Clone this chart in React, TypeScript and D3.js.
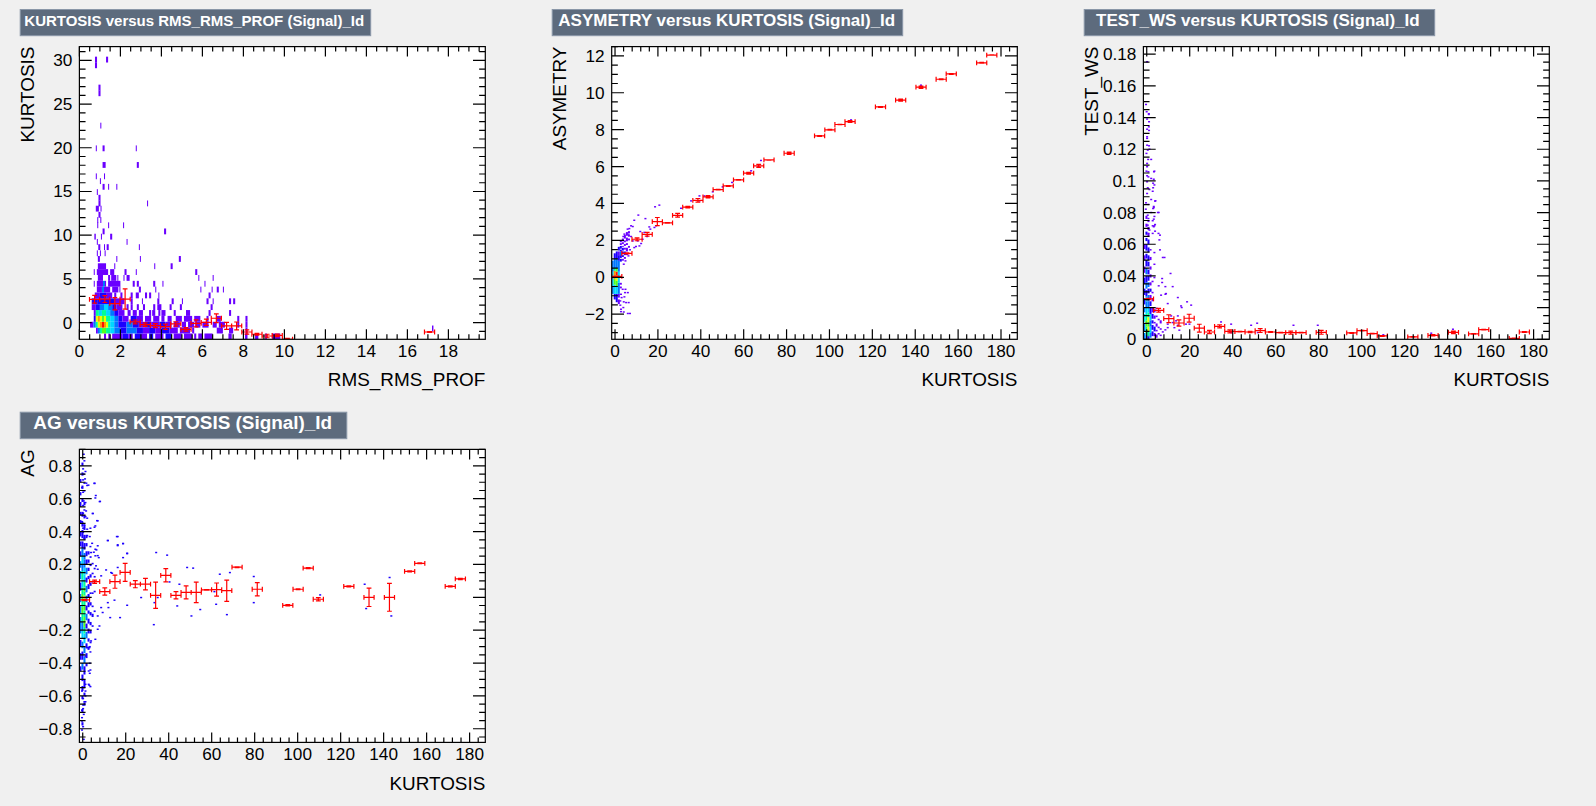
import React from "react";
import * as d3 from "d3";

type Seg = [number, number, number]; // from, to, entries
type Line = [number, Seg[]]; // lower edge of the row or column, then its runs
type Dot = [number, number];

// ---- KURTOSIS vs RMS_RMS_PROF
// rows: y lower edge, runs along x
const rmsRows: Line[] = [
  [-1.91, [[1.2,1.3,1],[1.41,1.5,1],[1.6,2.1,1],[2.1,2.4,2],[2.4,2.6,1],[2.7,3.0,2],[3.0,3.3,1],[3.4,3.6,2],[3.7,4.1,1],[4.2,4.5,2],[4.6,5.0,1],[5.1,5.5,1],[5.6,5.7,1],[5.8,6.0,1],[6.1,6.5,1],[7.27,7.43,1],[8.08,8.2,1],[8.57,8.73,1],[9.06,9.15,1],[9.4,9.8,1]]],
  [-1.24, [[0.81,0.9,1],[0.9,1.0,3],[1.0,1.1,5],[1.1,1.3,6],[1.3,1.5,5],[1.5,1.7,4],[1.7,2.0,3],[2.0,2.3,2],[2.3,2.8,3],[2.8,3.1,2],[3.1,3.4,1],[3.4,3.7,2],[3.7,4.0,1],[4.0,4.4,2],[4.4,4.8,1],[4.9,5.4,1],[5.5,5.6,1],[6.7,7.0,1],[7.3,7.5,1],[8.1,8.2,1]]],
  [-0.57, [[0.52,0.68,1],[0.68,0.8,3],[0.8,0.9,5],[0.9,1.0,7],[1.0,1.1,8],[1.1,1.2,9],[1.2,1.3,8],[1.3,1.4,7],[1.4,1.5,5],[1.5,1.7,4],[1.7,1.9,3],[1.9,2.3,2],[2.3,2.6,3],[2.6,2.9,2],[2.9,3.2,1],[3.2,3.5,2],[3.5,3.9,1],[3.9,4.2,2],[4.2,4.5,1],[4.6,4.9,1],[5.0,5.2,1],[5.3,5.6,1],[5.65,5.9,1],[6.0,6.3,1],[6.5,6.7,1],[6.8,7.1,1],[7.7,7.8,1],[8.1,8.2,1]]],
  [0.1, [[0.7,0.8,2],[0.8,0.9,7],[0.9,1.0,8],[1.0,1.1,7],[1.1,1.2,6],[1.2,1.3,7],[1.3,1.5,5],[1.5,1.7,4],[1.7,1.9,3],[1.9,2.1,2],[2.1,2.4,1],[2.5,2.8,2],[2.8,3.1,1],[3.2,3.5,1],[3.6,3.9,1],[4.0,4.15,1],[4.3,4.5,1],[4.7,5.0,1],[5.1,5.5,1],[5.6,5.9,1],[6.2,6.3,1],[6.7,6.9,1],[7.7,7.8,1],[8.1,8.2,1]]],
  [0.77, [[0.7,0.8,1],[0.8,0.95,5],[0.95,1.1,4],[1.1,1.3,5],[1.3,1.5,4],[1.5,1.7,3],[1.7,1.9,2],[1.9,2.2,1],[2.35,2.5,1],[2.6,2.8,1],[2.9,3.1,1],[3.4,3.5,1],[3.55,3.7,1],[3.85,3.95,1],[4.0,4.2,1],[4.6,4.7,1],[5.2,5.4,1],[6.3,6.4,1],[7.3,7.4,1]]],
  [1.44, [[0.6,0.8,1],[0.8,1.0,2],[1.0,1.2,3],[1.2,1.4,4],[1.4,1.6,3],[1.6,1.8,2],[1.8,2.1,1],[2.3,2.4,1],[2.5,2.6,1],[2.8,2.9,1],[3.1,3.2,1],[3.6,3.7,1],[3.8,4.0,1],[4.4,4.5,1],[4.9,5.0,1],[6.4,6.5,1]]],
  [2.11, [[0.6,0.9,2],[0.9,1.7,2],[1.7,2.2,1],[2.5,2.6,1],[3.05,3.1,1],[3.8,3.9,1],[4.5,4.6,1],[5.0,5.05,1],[6.2,6.3,1],[6.5,6.55,1],[7.3,7.4,1],[7.5,7.6,1]]],
  [2.78, [[0.75,1.0,1],[1.0,1.3,2],[1.3,1.6,1],[1.7,1.8,1],[2.0,2.1,1],[2.5,2.6,1],[2.75,2.9,1],[3.2,3.3,1],[3.4,3.5,1],[3.85,3.9,1],[6.3,6.4,1]]],
  [3.45, [[0.85,1.1,1],[1.1,1.2,3],[1.2,1.5,1],[1.6,1.9,1],[1.95,2.0,1],[2.9,3.0,1],[3.7,3.75,1],[5.9,5.95,1],[6.45,6.5,1],[6.7,6.8,1],[7.0,7.05,1]]],
  [4.11, [[0.7,0.75,1],[0.85,1.15,1],[1.15,1.25,3],[1.25,1.3,1],[1.4,2.0,1],[2.6,2.7,1],[2.8,2.9,1],[3.6,3.7,1],[4.05,4.1,1],[6.1,6.15,1]]],
  [4.78, [[0.9,1.15,1],[1.4,1.5,1],[1.55,1.8,1],[1.85,1.9,1],[2.15,2.2,1],[2.3,2.45,1],[5.8,5.85,1],[6.5,6.55,1]]],
  [5.45, [[0.7,0.75,1],[0.85,1.4,1],[1.5,1.7,1],[2.2,2.3,1],[2.75,2.8,1],[5.65,5.75,1]]],
  [6.12, [[0.9,1.3,1],[1.7,1.75,1],[3.65,3.7,1],[4.45,4.55,1]]],
  [6.95, [[0.9,1.0,1],[1.8,1.85,1],[2.95,3.0,1],[4.85,4.95,1]]],
  [7.6, [[0.85,0.9,1],[1.0,1.05,1],[1.23,1.28,1]]],
  [8.3, [[0.92,1.02,1],[1.2,1.25,1],[1.33,1.43,1],[2.9,2.95,1]]],
  [8.9, [[0.85,0.9,1],[2.3,2.35,1]]],
  [9.5, [[0.73,0.8,1],[1.05,1.1,1],[1.5,1.6,1]]],
  [10.1, [[1.13,1.23,1],[4.13,4.23,1]]],
  [10.8, [[0.87,0.92,1],[1.4,1.45,1],[2.13,2.18,1]]],
  [11.4, [[0.87,0.92,1],[1.02,1.07,1]]],
  [12.0, [[0.93,1.03,1]]],
  [12.7, [[0.8,0.95,1],[1.03,1.08,1]]],
  [13.3, [[0.93,1.03,1],[3.3,3.35,1]]],
  [13.95, [[0.93,1.03,1]]],
  [14.6, [[0.85,0.9,1]]],
  [15.2, [[1.13,1.23,1],[1.4,1.45,1],[1.8,1.85,1]]],
  [15.85, [[1.0,1.05,1]]],
  [16.4, [[0.8,0.85,1],[1.2,1.25,1]]],
  [17.7, [[1.13,1.28,1],[2.8,2.9,1]]],
  [19.6, [[0.8,0.85,1],[1.13,1.23,1],[2.75,2.8,1]]],
  [22.2, [[1.02,1.07,1]]],
  [25.9, [[0.93,1.03,1]]],
  [26.55, [[0.93,1.03,1]]],
  [29.1, [[0.76,0.86,1]]],
  [29.75, [[0.76,0.86,1],[1.3,1.4,1]]],
  [-1.0, [[17.2,17.27,1]]],
];

// columns below: x lower edge, runs along y
const asymColumns: Line[] = [
  [-1.55, [[-0.9,-0.5,3],[-0.5,0.3,4],[0.3,0.9,3]]],
  [-0.6, [[-1.2,-0.9,2],[-0.9,-0.4,4],[-0.4,-0.1,6],[-0.1,0.35,8],[0.35,0.5,5],[0.5,1.0,3],[1.0,1.3,2]]],
  [0.34, [[-1.35,-0.9,2],[-0.9,-0.5,4],[-0.5,-0.2,6],[-0.2,0.1,7],[0.1,0.3,9],[0.3,0.5,6],[0.5,1.0,3],[1.0,1.4,2]]],
  [1.29, [[-1.45,-1.2,1],[-1.1,-0.9,1],[-0.9,-0.3,3],[-0.3,0.3,4],[0.3,0.9,3],[0.9,1.2,2],[1.2,1.4,1],[1.45,1.65,2]]],
  [2.23, [[-0.6,-0.5,1],[-0.4,-0.3,1],[0.85,1.0,2],[1.05,1.2,2],[1.2,1.4,3],[1.4,1.5,2],[1.55,1.7,2],[1.75,1.85,1],[1.9,2.0,1]]],
  [3.18, [[0.9,1.0,1],[1.1,1.2,2],[1.25,1.4,2],[1.45,1.6,2],[1.65,1.7,1],[1.8,1.9,1],[1.95,2.1,1]]],
  [4.12, [[1.0,1.1,1],[1.2,1.4,2],[1.5,1.6,1],[1.7,1.8,1],[1.9,2.0,1],[2.1,2.3,1]]],
  [5.07, [[1.2,1.3,1],[1.4,1.6,1],[1.75,1.85,1],[1.95,2.15,1],[2.25,2.45,1]]],
  [6.02, [[1.6,1.7,1],[2.0,2.1,1],[2.2,2.3,1],[2.4,2.5,1]]],
];
const asymDots: Dot[] = [
  [3.1,-0.69],[4.4,-0.69],[5.5,-0.87],[2.3,-0.96],[4.2,-0.87],[2.6,-1.14],[3.9,-1.1],[4.7,-1.41],[5.9,-1.41],[2,-1.55],[2.3,-1.77],[3.4,-1.68],[2.3,-1.9],[3.6,-1.92],[5.5,-2],[6.5,-2],[2,-1.32],[3.6,-1.37],
  [20.2,3.87],[18.2,3.78],[10.4,3.33],[8.5,3.05],[13.7,3.14],[7,2.75],[7.8,2.71],[5.4,2.57],[6.2,2.6],[11.3,2.44],[3.9,2.3],[5.9,2.3],[3.4,2.17],[7,2.17],[7.8,1.93],[10.1,1.93],[11.7,1.79],[9.3,1.63],[15.5,2.69],[16,2.57],[17.9,2.66],[18.7,2.75],[13.2,2.39],[14.5,2.17],[12.4,2.02],[10.9,1.66],[8.5,1.57],[6.5,1.45],[5.8,1.12],[4.4,0.85],[3.6,0.67],
  [30.3,3.7],[35,4.1],[38.9,4.37],[41.2,4.37],[45.1,4.59],[49.7,4.86],[54.1,5.1],[63,5.73],[67.6,6.29],[66.4,5.95],[142.2,10.37],[109.6,8.49],[38.9,4.1],
];

const wsColumns: Line[] = [
  [-1.55, [[0,0.004,3],[0.005,0.01,3],[0.011,0.016,4],[0.017,0.02,3],[0.022,0.026,2],[0.028,0.032,2],[0.035,0.039,2],[0.042,0.046,1],[0.05,0.053,1],[0.057,0.06,1]]],
  [-0.6, [[0,0.003,3],[0.003,0.008,5],[0.008,0.012,6],[0.012,0.016,5],[0.016,0.02,4],[0.02,0.024,3],[0.024,0.027,4],[0.027,0.031,2],[0.032,0.036,3],[0.036,0.04,2],[0.041,0.045,3],[0.046,0.05,2],[0.051,0.054,2],[0.056,0.06,2],[0.062,0.064,2],[0.066,0.068,2],[0.071,0.073,1],[0.076,0.078,1]]],
  [0.34, [[0,0.002,2],[0.002,0.005,5],[0.005,0.008,7],[0.008,0.011,6],[0.011,0.014,7],[0.014,0.017,5],[0.017,0.02,4],[0.02,0.024,3],[0.024,0.028,3],[0.029,0.032,2],[0.033,0.036,3],[0.037,0.04,2],[0.041,0.044,2],[0.046,0.049,2],[0.05,0.053,2],[0.055,0.058,2],[0.06,0.063,2],[0.065,0.067,1],[0.069,0.071,1],[0.074,0.075,1]]],
  [1.29, [[0.001,0.004,3],[0.004,0.008,4],[0.008,0.012,3],[0.012,0.016,4],[0.016,0.02,2],[0.021,0.024,2],[0.026,0.028,1],[0.03,0.032,2],[0.034,0.036,1],[0.039,0.041,1],[0.044,0.046,1],[0.05,0.052,1],[0.056,0.057,1]]],
  [2.23, [[0.002,0.005,2],[0.006,0.009,2],[0.01,0.012,2],[0.013,0.016,2],[0.017,0.02,1],[0.024,0.026,1],[0.029,0.03,1],[0.036,0.037,1]]],
  [3.18, [[0.002,0.004,1],[0.005,0.008,2],[0.01,0.011,1],[0.013,0.015,1],[0.017,0.019,1]]],
  [4.12, [[0.001,0.003,1],[0.005,0.006,1],[0.008,0.01,1],[0.014,0.015,1],[0.019,0.02,1]]],
  [5.07, [[0.003,0.004,1],[0.007,0.008,1],[0.012,0.013,1]]],
  [6.02, [[0.002,0.003,1],[0.006,0.007,1],[0.01,0.012,1]]],
];
const wsDots: Dot[] = [
  [-0.3,0.1748],[-0.8,0.1478],[0.5,0.142],[-0.5,0.1432],[0.5,0.1415],[-0.3,0.1386],[0.6,0.1369],[0.5,0.1337],[-0.3,0.1322],[0.6,0.1314],[-0.3,0.1274],[-0.3,0.1264],[-0.3,0.1221],[0.6,0.1217],[0,0.119],[0.8,0.1196],[-0.6,0.1169],[0.2,0.1131],[1.6,0.1131],[-0.3,0.1106],[-0.3,0.1085],[-0.6,0.1057],[0.3,0.1053],[3.1,0.1057],[-0.3,0.1028],[0.3,0.1021],[1.6,0.1011],[2.5,0.0981],[-0.3,0.099],[0,0.0952],[2.5,0.0952],[0.8,0.0941],[2.3,0.093],[-0.3,0.0916],[1.6,0.0878],[3.4,0.0868],[-0.8,0.0857],[0.3,0.0847],[2.8,0.0834],[-0.9,0.0817],[2.5,0.0821],[4.7,0.0796],[1.6,0.0796],[0,0.0779],[3.1,0.0771],[0.3,0.0758],[2.3,0.0744],[0,0.0716],[2.8,0.0706],[3.4,0.072],[0.8,0.0685],[3.4,0.0678],[0.3,0.0664],[2.3,0.0664],[5,0.0664],
  [2.9,0.1053],[2.8,0.1006],[3.1,0.097],[3.6,0.087],[2.8,0.0827],[5.1,0.0796],[2.8,0.0754],[2.3,0.0712],[5.7,0.0653],[3.1,0.0712],[5.4,0.0623],[5.7,0.056],[3.1,0.0543],[7,0.0512],[7.8,0.0512],[3.1,0.0469],[10.6,0.0411],[6.7,0.0379],[3.1,0.0385],[5.1,0.0333],[8.2,0.0328],[11.6,0.0328],[6.7,0.0354],[8.2,0.028],[6.2,0.0274],[8.5,0.0284],[14,0.0259],[18.3,0.0232],[20.2,0.0211],[9.3,0.0221],[15.5,0.0206],[15.8,0.0196],[10.9,0.0143],[14,0.0143],[13.2,0.0112],[9.3,0.0069],[12.4,0.0069],[14.7,0.0053],[9.3,0.0091],[7,0.0042],[8.2,0.0055],[11.6,0.0101],[17.8,0.0091],[19.4,0.0091],[14,0.0084],
  [34.1,0.0105],[38.8,0.0091],[48.1,0.0084],[50.9,0.0097],[67.8,0.0084],[79.1,0.0084],[142,0.0059],[51.2,0.0038],[38.8,0.0038],[131.9,0.0034],[109.6,0.0024],
];

const agColumns: Line[] = [
  [-1.55, [[-0.45,-0.42,2],[-0.38,-0.34,2],[-0.3,-0.26,2],[-0.22,-0.12,3],[-0.1,-0.05,3],[-0.03,0.02,3],[0.04,0.09,2],[0.11,0.16,3],[0.18,0.22,3],[0.25,0.28,2],[0.31,0.34,2],[0.37,0.4,2],[0.45,0.47,2],[0.5,0.52,2],[0.55,0.58,2],[0.62,0.64,2],[0.7,0.72,2]]],
  [-0.6, [[-0.78,-0.76,2],[-0.7,-0.68,2],[-0.62,-0.6,2],[-0.57,-0.54,2],[-0.51,-0.47,2],[-0.44,-0.4,3],[-0.38,-0.33,2],[-0.31,-0.27,3],[-0.25,-0.2,4],[-0.2,-0.15,3],[-0.15,-0.1,5],[-0.1,-0.06,6],[-0.06,-0.02,5],[-0.02,0.02,6],[0.02,0.06,5],[0.06,0.11,4],[0.11,0.16,5],[0.16,0.2,3],[0.2,0.25,4],[0.25,0.3,3],[0.3,0.34,2],[0.36,0.41,2],[0.43,0.46,2],[0.49,0.52,2],[0.58,0.6,2],[0.66,0.68,2],[0.74,0.76,2],[0.8,0.82,2]]],
  [0.34, [[-0.66,-0.64,2],[-0.6,-0.58,2],[-0.55,-0.5,2],[-0.47,-0.42,2],[-0.4,-0.36,3],[-0.34,-0.3,3],[-0.28,-0.22,4],[-0.22,-0.18,5],[-0.18,-0.12,6],[-0.12,-0.08,5],[-0.08,-0.05,6],[-0.05,-0.02,5],[-0.02,0.01,7],[0.01,0.035,5],[0.035,0.06,6],[0.06,0.1,5],[0.1,0.14,4],[0.14,0.18,4],[0.18,0.23,3],[0.23,0.27,3],[0.29,0.33,2],[0.35,0.38,2],[0.41,0.44,2],[0.48,0.5,2],[0.56,0.58,2]]],
  [1.29, [[-0.42,-0.4,2],[-0.37,-0.34,2],[-0.31,-0.28,2],[-0.25,-0.21,3],[-0.19,-0.16,2],[-0.14,-0.1,3],[-0.08,-0.05,2],[-0.03,0.01,3],[0.03,0.07,3],[0.09,0.12,2],[0.14,0.18,3],[0.2,0.23,2],[0.25,0.28,2],[0.31,0.33,2],[0.36,0.38,2]]],
  [2.23, [[-0.32,-0.3,2],[-0.27,-0.25,2],[-0.22,-0.19,2],[-0.16,-0.13,2],[-0.1,-0.08,2],[-0.06,-0.03,2],[0,0.02,2],[0.05,0.08,2],[0.11,0.13,2],[0.16,0.18,2],[0.21,0.23,2],[0.26,0.28,2]]],
  [3.18, [[-0.28,-0.27,2],[-0.22,-0.2,2],[-0.17,-0.15,2],[-0.11,-0.09,2],[-0.05,-0.03,2],[0.02,0.03,2],[0.07,0.09,2],[0.12,0.14,2],[0.19,0.2,2],[0.24,0.25,2]]],
  [4.12, [[-0.18,-0.17,2],[-0.12,-0.1,2],[-0.06,-0.05,2],[0.02,0.03,2],[0.09,0.1,2],[0.14,0.15,2],[0.2,0.21,2]]],
  [5.07, [[-0.09,-0.08,2],[0.03,0.04,2],[0.12,0.13,2],[0.17,0.18,2]]],
];
const agDots: Dot[] = [
  [0,0.866],[0.3,0.826],[-0.3,0.777],[0.8,0.761],[0,0.745],[-0.3,0.71],[0.6,0.716],[0.3,0.69],[1.2,0.69],[5,0.69],[1.6,0.676],[-0.8,0.663],[0.3,0.643],[-0.3,0.635],[5.6,0.615],[0,0.582],[7.4,0.578],[0.8,0.572],[-0.3,0.554],[0.3,0.527],[1.1,0.521],[4.2,0.505],[-0.3,0.507],[0.8,0.487],[1.6,0.477],[-0.8,0.456],[6.2,0.462],[0.3,0.436],[-0.3,0.416],[3.1,0.416],[1.6,0.41],[5,0.422],[-0.3,0.391],[1.6,0.371],[2.8,0.365],[0.3,0.355],[11.2,0.341],[15.8,0.365],[18.3,0.322],[15.8,0.31],[3.9,0.324],[3.1,0.304],[5.9,0.284],[4.7,0.27],[20.2,0.261],[18.3,0.237],[6.5,0.249],[7,0.237],
  [15.4,0.365],[11.2,0.341],[15.8,0.315],[18.3,0.323],[20.2,0.264],[33.7,0.268],[38.8,0.252],[15.8,0.177],[10.4,0.162],[12.7,0.146],[13.2,0.142],[48.1,0.177],[50.9,0.173],[63.3,0.136],[68,0.146],[79.1,0.122],[44.5,0.075],[39.9,0.089],[26.7,-0.006],[32.9,-0.037],[34.4,-0.006],[20.2,-0.053],[43.5,-0.057],[60.8,0.03],[61.6,-0.047],[79.1,-0.037],[54.2,-0.079],[50.1,-0.118],[66.6,-0.11],[32.6,-0.171],[131.4,-0.073],[143.1,-0.118],[142.3,0.116],[130.7,0.075],[110,0.01],[7.3,-0.179],[6.5,-0.199],[5.4,-0.26],[2.6,-0.311],[2.6,-0.54],[8.1,-0.067],[11.2,-0.037],[12.3,-0.128],[16.9,-0.128],[14.3,-0.022],[6.5,-0.118],[8.8,-0.097],[11.5,-0.067],[8.1,0.126],[6.5,0.166],[5.7,0.187],[5.4,0.248],[6.5,0.309],[5.4,0.288],[3.4,0.268],[5.4,0.6],[7.6,0.579],[5,0.688],[6.5,0.461],[5.4,0.43],[4.2,0.506],[2.2,0.678],
  [3.4,-0.27],[2.8,-0.305],[1.6,-0.311],[3.1,-0.337],[0.8,-0.362],[2.8,-0.406],[3.1,-0.447],[2.3,-0.453],[2.8,-0.467],[2.3,-0.534],[3.1,-0.548],[0.8,-0.534],[0,-0.554],[0.8,-0.575],[-0.8,-0.575],[0.8,-0.605],[-0.3,-0.621],[0.3,-0.64],[0.8,-0.64],[-0.3,-0.66],[-0.3,-0.682],[-0.8,-0.692],[0,-0.717],[-0.8,-0.737],[-0.8,-0.757],[-0.3,-0.792],[-0.8,-0.812],[0,-0.869],
];

// ---- profiles: bin centres, means, errors
const rmsProfX = [0.74,1.24,1.73,2.23,2.72,3.21,3.71,4.2,4.7,5.2,5.69,6.19,6.68,7.18,7.67,8.17,8.66,9.16,9.65,10.15,17.08];
const rmsProfY = [2.67,2.7,2.17,2.7,0.08,-0.23,-0.34,-0.46,-0.15,-0.76,-0.08,0.04,0.5,-0.38,-0.38,-1.07,-1.33,-1.53,-1.45,-1.9,-1.07];
const rmsProfE = [0.45,0.4,0.7,1.15,0.22,0.2,0.22,0.3,0.25,0.2,0.4,0.35,0.5,0.4,0.45,0.25,0.1,0.2,0.15,0.1,0.05];

const kurtProfX = [0.81,5.54,10.27,15,19.73,24.46,29.19,33.92,38.65,43.38,48.1,52.8,57.6,62.3,67,71.8,81.2,95.4,100.2,104.9,109.6,123.8,133.2,142.7,152.1,156.8,171,175.7];
const asymProfY = [0.05,1.3,2.06,2.33,3.02,2.95,3.36,3.8,4.17,4.36,4.75,4.95,5.28,5.64,6.04,6.36,6.72,7.66,7.99,8.28,8.44,9.23,9.6,10.3,10.73,11.02,11.62,12.04];
const asymProfE = [0.01,0.03,0.08,0.1,0.22,0.02,0.1,0.04,0.1,0.06,0.02,0.02,0.02,0.05,0.08,0.01,0.06,0.02,0.02,0.01,0.05,0.02,0.06,0.06,0.02,0.02,0.02,0.01];
const wsProfY = [0.0255,0.0183,0.013,0.0103,0.0133,0.007,0.0046,0.0082,0.005,0.0048,0.0046,0.0055,0.0046,0.0042,0.0042,0.0042,0.0044,0.004,0.0055,0.0036,0.0021,0.0015,0.0025,0.0044,0.0034,0.0061,0.0006,0.0046];
const wsProfE = [0.0004,0.0012,0.0025,0.002,0.0025,0.0025,0.001,0.001,0.001,0.0002,0.0004,0.0012,0.0002,0.0002,0.001,0.0002,0.0012,0.0002,0.0002,0.0002,0.0002,0.0002,0.0004,0.0008,0.0002,0.0002,0.0002,0.0002];
const agProfY = [-0.016,0.095,0.035,0.095,0.152,0.08,0.08,0.012,0.134,0.012,0.03,0.03,0.045,0.047,0.04,0.183,0.049,-0.049,0.049,0.177,-0.012,0.067,0,0,0.158,0.207,0.067,0.112];
const agProfE = [0.004,0.01,0.022,0.04,0.055,0.022,0.035,0.08,0.04,0.022,0.04,0.062,0.002,0.04,0.065,0.003,0.04,0.004,0.003,0.003,0.01,0.003,0.056,0.085,0.003,0.002,0.003,0.004];

const rmsTicks = d3.range(0, 19, 2);
const kurtTicks = d3.range(0, 181, 20);
const kurtosisTicks = [0, 5, 10, 15, 20, 25, 30];
const asymTicks = [-2, 0, 2, 4, 6, 8, 10, 12];
const wsTicks = [0, 0.02, 0.04, 0.06, 0.08, 0.1, 0.12, 0.14, 0.16, 0.18];
const agTicks = [-0.8, -0.6, -0.4, -0.2, 0, 0.2, 0.4, 0.6, 0.8];

// ROOT rainbow palette
const density = d3
  .scaleLinear<string>()
  .domain([1, 2, 3, 4, 5, 6, 7, 8, 9])
  .range(["#6a00ff", "#1c00ff", "#0078ff", "#00d8ff", "#00ff96", "#50ff20", "#e8ff00", "#ff9600", "#ff1000"])
  .clamp(true);

const font = "'Liberation Sans', Arial, sans-serif";

type PanelProps = {
  frame: [number, number, number, number];
  xDom: [number, number];
  yDom: [number, number];
  xTicks: number[];
  yTicks: number[];
  xMinor: number;
  yMinor: number;
  xBin: number;
  yBin: number;
  rows?: Line[];
  columns?: Line[];
  dots?: Dot[];
  dotCount?: number;
  profX: number[];
  profY: number[];
  profE: number[];
  xTitle: string;
  yTitle: string;
  yTitleX: number;
  xTitleY: number;
  title: string;
  box: [number, number, number, number];
  titleX: number;
  titleY: number;
  titleSize: number;
  id: string;
};

const minorValues = (dom: [number, number], step: number) =>
  d3.range(Math.ceil(dom[0] / step - 1e-6), Math.floor(dom[1] / step + 1e-6) + 1).map((k) => k * step);

const label = (v: number) => String(v).replace("-", "\u2212");

function Panel(p: PanelProps) {
  const [left, top, right, bottom] = p.frame;
  const x = d3.scaleLinear().domain(p.xDom).range([left, right]);
  const y = d3.scaleLinear().domain(p.yDom).range([bottom, top]);
  const binW = (p.xDom[1] - p.xDom[0]) / 40;
  const errPath = d3.path();
  p.profX.forEach((cx, i) => {
    const my = y(p.profY[i]);
    const x0 = x(cx - binW / 2);
    const x1 = x(cx + binW / 2);
    const y0 = y(p.profY[i] - p.profE[i]);
    const y1 = y(p.profY[i] + p.profE[i]);
    errPath.moveTo(x0, my);
    errPath.lineTo(x1, my);
    errPath.moveTo(x0, my - 2.4);
    errPath.lineTo(x0, my + 2.4);
    errPath.moveTo(x1, my - 2.4);
    errPath.lineTo(x1, my + 2.4);
    errPath.moveTo(x(cx), y0);
    errPath.lineTo(x(cx), y1);
    errPath.moveTo(x(cx) - 2.4, y0);
    errPath.lineTo(x(cx) + 2.4, y0);
    errPath.moveTo(x(cx) - 2.4, y1);
    errPath.lineTo(x(cx) + 2.4, y1);
  });
  const tickPath = d3.path();
  const xMajorLen = 10;
  const yMajorLen = 12.3;
  const addX = (v: number, len: number) => {
    tickPath.moveTo(x(v), bottom);
    tickPath.lineTo(x(v), bottom - len);
    tickPath.moveTo(x(v), top);
    tickPath.lineTo(x(v), top + len);
  };
  const addY = (v: number, len: number) => {
    tickPath.moveTo(left, y(v));
    tickPath.lineTo(left + len, y(v));
    tickPath.moveTo(right, y(v));
    tickPath.lineTo(right - len, y(v));
  };
  minorValues(p.xDom, p.xMinor).forEach((v) => addX(v, xMajorLen / 2));
  minorValues(p.yDom, p.yMinor).forEach((v) => addY(v, yMajorLen / 2));
  p.xTicks.forEach((v) => addX(v, xMajorLen));
  p.yTicks.forEach((v) => addY(v, yMajorLen));

  return (
    <g fontFamily={font}>
      <rect x={p.box[0]} y={p.box[1]} width={p.box[2] - p.box[0]} height={p.box[3] - p.box[1]} fill="#5d6b7d" stroke="#8a97a8" strokeWidth={1} />
      <text x={p.titleX} y={p.titleY} fill="#fff" fontWeight="bold" fontSize={p.titleSize}>
        {p.title}
      </text>
      <rect x={left} y={top} width={right - left} height={bottom - top} fill="#fff" />
      <clipPath id={p.id}>
        <rect x={left} y={top} width={right - left} height={bottom - top} />
      </clipPath>
      <g clipPath={`url(#${p.id})`}>
        {(p.rows ?? []).map(([yl, segs], i) =>
          segs.map(([a, b, n], j) => (
            <rect key={`r${i}-${j}`} x={x(a)} y={y(yl + p.yBin)} width={x(b) - x(a)} height={y(yl) - y(yl + p.yBin)} fill={density(n)} />
          ))
        )}
        {(p.columns ?? []).map(([xl, segs], i) =>
          segs.map(([a, b, n], j) => (
            <rect key={`c${i}-${j}`} x={x(xl)} y={y(b)} width={x(xl + p.xBin) - x(xl)} height={y(a) - y(b)} fill={density(n)} />
          ))
        )}
        {(p.dots ?? []).map(([dx, dy], i) => (
          <rect key={`d${i}`} x={x(dx)} y={y(dy + p.yBin)} width={x(dx + p.xBin) - x(dx)} height={y(dy) - y(dy + p.yBin)} fill={density(p.dotCount ?? 1)} />
        ))}
        <path d={errPath.toString()} fill="none" stroke="#ff0000" strokeWidth={1.2} />
      </g>
      <path d={tickPath.toString()} fill="none" stroke="#000" strokeWidth={1.2} />
      <rect x={left} y={top} width={right - left} height={bottom - top} fill="none" stroke="#000" strokeWidth={1.2} />
      {p.xTicks.map((v) => (
        <text key={v} x={x(v)} y={bottom + 17.7} textAnchor="middle" fontSize={17.2} fill="#000">
          {label(v)}
        </text>
      ))}
      {p.yTicks.map((v) => (
        <text key={v} x={left - 7} y={y(v) + 6} textAnchor="end" fontSize={17.2} fill="#000">
          {label(v)}
        </text>
      ))}
      <text x={right} y={p.xTitleY} textAnchor="end" fontSize={18.9} fill="#000">
        {p.xTitle}
      </text>
      <text transform={`translate(${p.yTitleX},${top}) rotate(-90)`} textAnchor="end" fontSize={18.9} fill="#000">
        {p.yTitle}
      </text>
    </g>
  );
}

export default function App() {
  return (
    <svg width={1596} height={806} style={{ position: "fixed", left: 0, top: 0 }}>
      <rect width={1596} height={806} fill="#f0f0f0" />
      <Panel
        id="p1"
        frame={[79.4, 46.6, 485.3, 339.3]}
        xDom={[0, 19.8]}
        yDom={[-1.906, 31.57]}
        xTicks={rmsTicks}
        yTicks={kurtosisTicks}
        xMinor={0.5}
        yMinor={1}
        xBin={0.099}
        yBin={0.669}
        rows={rmsRows}
        profX={rmsProfX}
        profY={rmsProfY}
        profE={rmsProfE}
        xTitle="RMS_RMS_PROF"
        yTitle="KURTOSIS"
        yTitleX={34.2}
        xTitleY={386}
        title="KURTOSIS versus RMS_RMS_PROF (Signal)_Id"
        box={[20.2, 9.5, 370.7, 35.7]}
        titleX={24.3}
        titleY={25.5}
        titleSize={15}
      />
      <Panel
        id="p2"
        frame={[611.7, 46.6, 1017.3, 339.3]}
        xDom={[-1.55, 187.6]}
        yDom={[-3.36, 12.5]}
        xTicks={kurtTicks}
        yTicks={asymTicks}
        xMinor={4}
        yMinor={0.5}
        xBin={0.946}
        yBin={0.0793}
        columns={asymColumns}
        dots={asymDots}
        profX={kurtProfX}
        profY={asymProfY}
        profE={asymProfE}
        xTitle="KURTOSIS"
        yTitle="ASYMETRY"
        yTitleX={566.3}
        xTitleY={386}
        title="ASYMETRY versus KURTOSIS (Signal)_Id"
        box={[552.2, 9.5, 902.7, 35.7]}
        titleX={558.3}
        titleY={26}
        titleSize={17}
      />
      <Panel
        id="p3"
        frame={[1143.4, 46.6, 1549.3, 339.3]}
        xDom={[-1.55, 187.3]}
        yDom={[0, 0.1848]}
        xTicks={kurtTicks}
        yTicks={wsTicks}
        xMinor={4}
        yMinor={0.005}
        xBin={0.946}
        yBin={0.000924}
        columns={wsColumns}
        dots={wsDots}
        profX={kurtProfX}
        profY={wsProfY}
        profE={wsProfE}
        xTitle="KURTOSIS"
        yTitle="TEST_WS"
        yTitleX={1097.7}
        xTitleY={386}
        title="TEST_WS versus KURTOSIS (Signal)_Id"
        box={[1084.2, 9.5, 1434.7, 35.7]}
        titleX={1096}
        titleY={26}
        titleSize={17}
      />
      <Panel
        id="p4"
        frame={[79.4, 449.4, 485.3, 742.4]}
        xDom={[-1.55, 187.3]}
        yDom={[-0.883, 0.9]}
        xTicks={kurtTicks}
        yTicks={agTicks}
        xMinor={4}
        yMinor={0.05}
        xBin={0.946}
        yBin={0.00892}
        columns={agColumns}
        dots={agDots}
        dotCount={2}
        profX={kurtProfX}
        profY={agProfY}
        profE={agProfE}
        xTitle="KURTOSIS"
        yTitle="AG"
        yTitleX={34.2}
        xTitleY={790}
        title="AG versus KURTOSIS (Signal)_Id"
        box={[20.2, 412.2, 346.8, 438.7]}
        titleX={33.3}
        titleY={429.3}
        titleSize={18.9}
      />
    </svg>
  );
}
